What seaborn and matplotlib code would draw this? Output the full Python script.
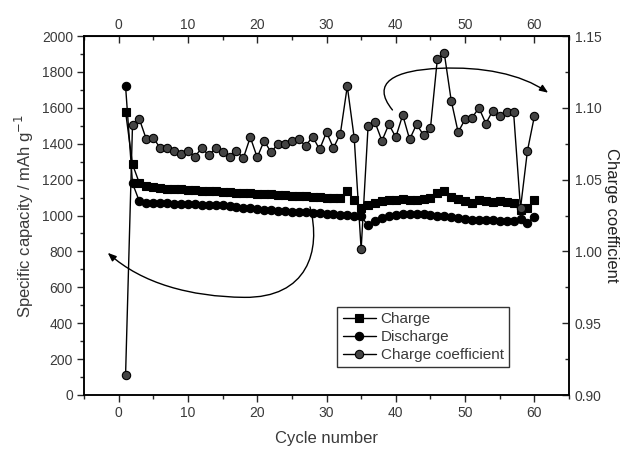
import matplotlib
matplotlib.use("Agg")
import matplotlib.pyplot as plt
import seaborn as sns
import pandas as pd
from matplotlib.patches import FancyArrowPatch
from matplotlib.path import Path
from matplotlib.ticker import MultipleLocator

cycles = list(range(1, 61))
charge = [1578, 1285, 1180, 1165, 1158, 1152, 1150, 1148, 1145, 1142,
          1140, 1138, 1136, 1134, 1133, 1131, 1128, 1126, 1124, 1122,
          1120, 1118, 1115, 1112, 1110, 1108, 1106, 1104, 1102, 1100,
          1098, 1097, 1135, 1088, 1040, 1058, 1072, 1080, 1085, 1088,
          1090, 1088, 1086, 1090, 1100, 1125, 1135, 1105, 1090, 1082,
          1072, 1085, 1078, 1075, 1078, 1075, 1068, 1030, 1040, 1088]
discharge = [1720, 1180, 1078, 1072, 1070, 1068, 1067, 1066, 1065, 1064,
             1062, 1061, 1060, 1058, 1056, 1052, 1048, 1044, 1040, 1037,
             1033, 1030, 1027, 1024, 1022, 1020, 1018, 1016, 1013, 1010,
             1007, 1004, 1003, 1000, 995, 945, 970, 985, 995, 1002,
             1006, 1008, 1008, 1006, 1002, 998, 995, 990, 985, 980,
             975, 975, 977, 975, 972, 970, 968, 980, 960, 993]
coefficient = [0.914, 1.088, 1.092, 1.078, 1.079, 1.072, 1.072, 1.070, 1.068, 1.070,
               1.066, 1.072, 1.067, 1.072, 1.069, 1.066, 1.070, 1.065, 1.0795, 1.0655,
               1.077, 1.069, 1.075, 1.075, 1.077, 1.078, 1.0735, 1.080, 1.071, 1.083,
               1.072, 1.082, 1.115, 1.079, 1.0015, 1.087, 1.090, 1.077, 1.0885, 1.0795,
               1.095, 1.078, 1.0885, 1.081, 1.0857, 1.134, 1.138, 1.105, 1.083, 1.092,
               1.093, 1.100, 1.089, 1.098, 1.094, 1.097, 1.097, 1.030, 1.070, 1.094]

series_labels = ["Charge", "Discharge", "Charge coefficient"]
x_ticks = [0, 10, 20, 30, 40, 50, 60]

df = pd.DataFrame({"cycle": cycles, "charge": charge,
                   "discharge": discharge, "coef": coefficient})

sns.set_style("ticks")
plt.rcParams["font.family"] = ["Liberation Sans", "DejaVu Sans"]
txt = "#3a3a3a"

fig = plt.figure(figsize=(6.38, 4.49), dpi=100)
ax = fig.add_axes([84/638, 54/449, 485/638, 359/449])
ax2 = ax.twinx()

common = dict(color="black", linewidth=1.0, markeredgecolor="black",
              markeredgewidth=0.8, markersize=6)
sns.lineplot(data=df, x="cycle", y="charge", marker="s", ax=ax,
             label=series_labels[0], legend=False, **common)
sns.lineplot(data=df, x="cycle", y="discharge", marker="o", ax=ax,
             label=series_labels[1], legend=False, **common)
sns.lineplot(data=df, x="cycle", y="coef", marker="o", ax=ax2,
             label=series_labels[2], legend=False,
             markerfacecolor="#444444", **common)

ax.set_xlim(-5, 65)
ax.set_ylim(0, 2000)
ax2.set_ylim(0.90, 1.15)
ax.set_xticks(x_ticks)
ax.xaxis.set_minor_locator(MultipleLocator(5))
ax.yaxis.set_major_locator(MultipleLocator(200))
ax.yaxis.set_minor_locator(MultipleLocator(100))
ax2.yaxis.set_major_locator(MultipleLocator(0.05))
ax2.yaxis.set_minor_locator(MultipleLocator(0.025))
ax2.yaxis.set_major_formatter(plt.FuncFormatter(lambda v, p: f"{v:.2f}"))

for a in (ax, ax2):
    for s in a.spines.values():
        s.set_visible(True)
        s.set_linewidth(1.1)
        s.set_color("black")

ax.tick_params(axis="both", which="major", direction="out", length=5, width=1,
               labelsize=10, labelcolor=txt, pad=3)
ax.tick_params(axis="both", which="minor", direction="out", length=3, width=1)
ax2.tick_params(axis="y", which="major", direction="in", length=5, width=1,
                labelsize=10, labelcolor=txt, pad=4)
ax2.tick_params(axis="y", which="minor", direction="in", length=3, width=1)

top = ax.secondary_xaxis("top")
top.set_xticks(x_ticks)
top.xaxis.set_minor_locator(MultipleLocator(5))
top.tick_params(which="major", direction="in", length=5, width=1,
                labelsize=10, labelcolor=txt, pad=3)
top.tick_params(which="minor", direction="in", length=3, width=1)

ax.set_xlabel("Cycle number", fontsize=12, color=txt, labelpad=8)
ax.set_ylabel("Specific capacity / mAh g$^{-1}$", fontsize=12, color=txt, labelpad=4)
ax2.set_ylabel("Charge coefficient", fontsize=12, color="#222222", rotation=270,
               labelpad=13)

h1, l1 = ax.get_legend_handles_labels()
h2, l2 = ax2.get_legend_handles_labels()
leg = ax2.legend(h1 + h2, l1 + l2, loc="lower left",
                 bbox_to_anchor=(0.522, 0.077), fontsize=11, frameon=True,
                 fancybox=False, handlelength=2.2, handletextpad=0.3,
                 borderpad=0.35, labelspacing=0.25, borderaxespad=0)
leg.get_frame().set_edgecolor("black")
leg.get_frame().set_linewidth(1.0)
for t in leg.get_texts():
    t.set_color(txt)

# curved arrows (axes-fraction coordinates)
C = Path.CURVE4
p1 = Path([(0.466, 0.524), (0.49, 0.40), (0.46, 0.27), (0.33, 0.272),
           (0.22, 0.274), (0.12, 0.31), (0.049, 0.396)],
          [Path.MOVETO, C, C, C, C, C, C])
p2 = Path([(0.636, 0.794), (0.59, 0.87), (0.64, 0.905), (0.734, 0.910),
           (0.82, 0.915), (0.90, 0.895), (0.957, 0.842)],
          [Path.MOVETO, C, C, C, C, C, C])
for p in (p1, p2):
    arr = FancyArrowPatch(path=p, arrowstyle="-|>,head_length=0.5,head_width=0.2",
                          mutation_scale=10, lw=1.0, color="black",
                          transform=ax2.transAxes)
    ax2.add_patch(arr)

fig.savefig("out.png", dpi=100)
